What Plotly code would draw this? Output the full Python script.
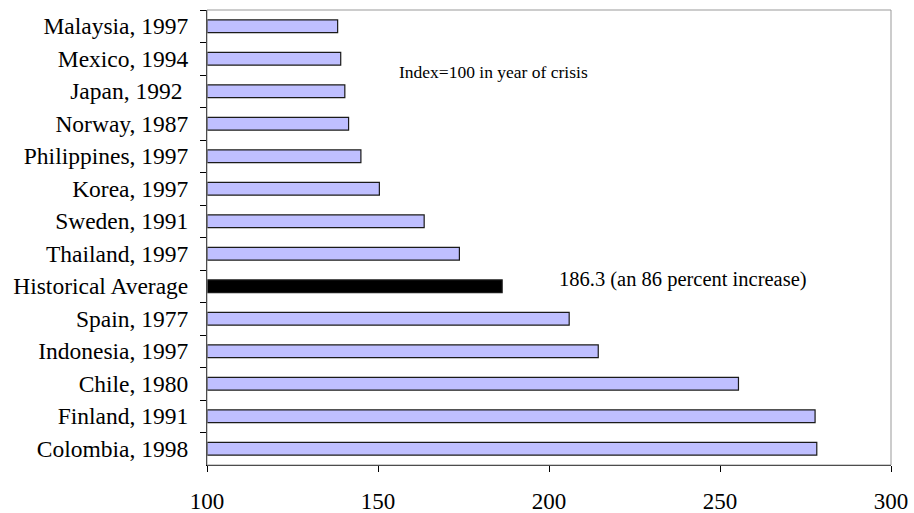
import plotly.graph_objects as go

categories = ["Malaysia, 1997", "Mexico, 1994", "Japan, 1992 ", "Norway, 1987",
              "Philippines, 1997", "Korea, 1997", "Sweden, 1991", "Thailand, 1997",
              "Historical Average", "Spain, 1977", "Indonesia, 1997", "Chile, 1980",
              "Finland, 1991", "Colombia, 1998"]
values = [138.2, 139.1, 140.3, 141.4, 145.0, 150.4, 163.5, 173.8,
          186.3, 205.9, 214.4, 255.4, 277.8, 278.3]
x_ticks = [100, 150, 200, 250, 300]

colors = ["#000000" if c == "Historical Average" else "#BFBFFF" for c in categories]

fig = go.Figure()
fig.add_trace(go.Bar(
    y=categories,
    x=[v - 100 for v in values],
    base=100,
    orientation="h",
    marker=dict(color=colors, line=dict(color="#1a1a1a", width=1.2)),
    width=0.39,
    hoverinfo="skip",
))

font_family = "Liberation Serif, Times New Roman, serif"

fig.update_layout(
    width=914, height=513,
    margin=dict(l=207, r=23, t=10, b=48),
    plot_bgcolor="white", paper_bgcolor="white",
    showlegend=False,
    font=dict(family=font_family, color="black", size=23),
    xaxis=dict(
        range=[100, 300], tickvals=x_ticks, ticktext=[str(t) for t in x_ticks],
        showgrid=False, zeroline=False, automargin=False,
        showline=True, linecolor="black", linewidth=1,
        ticks="outside", ticklen=6, tickcolor="black",
        ticklabelstandoff=9,
        tickfont=dict(size=23, family=font_family),
    ),
    yaxis=dict(
        autorange="reversed", type="category", automargin=False,
        showgrid=False, zeroline=False,
        showline=True, linecolor="black", linewidth=1,
        ticks="outside", ticklen=6, tickcolor="black", tickson="boundaries",
        tickfont=dict(size=23.5, family=font_family),
        ticklabelstandoff=13,
    ),
    shapes=[dict(type="rect", xref="paper", yref="paper", x0=0, x1=1, y0=0, y1=1,
                 line=dict(color="#999999", width=1), layer="above")],
    annotations=[
        dict(text="Index=100 in year of crisis", x=155.6, y=1.42, xref="x", yref="y",
             xanchor="left", yanchor="middle", showarrow=False,
             font=dict(size=17.5, family=font_family)),
        dict(text="186.3 (an 86 percent increase)", x=202.2, y=7.78, xref="x", yref="y",
             xanchor="left", yanchor="middle", showarrow=False,
             font=dict(size=20.5, family=font_family)),
    ],
)

# remove the browser's default 8px page margin so the figure fills the window
fig.write_html("out.html", config={"displayModeBar": False},
               post_script="document.body.style.margin='0';")
